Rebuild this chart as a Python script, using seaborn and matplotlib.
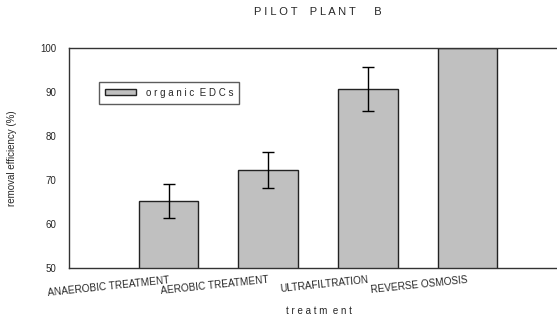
import matplotlib
matplotlib.use("Agg")
import matplotlib.pyplot as plt
import seaborn as sns
import pandas as pd

categories = ["ANAEROBIC TREATMENT", "AEROBIC TREATMENT", "ULTRAFILTRATION", "REVERSE OSMOSIS"]
removal = [65.3, 72.2, 90.7, 100.0]
errors = [3.9, 4.1, 5.0, 0.0]
yticks = [50, 60, 70, 80, 90, 100]

sns.set_theme(style="white")
plt.rcParams['font.family'] = ['Liberation Sans', 'DejaVu Sans']

df = pd.DataFrame({"treatment": categories, "removal": removal, "series": "organic EDCs"})

W, H = 557, 321
left_px, right_px, top_px, bot_px = 69, 562, 48, 268
fig = plt.figure(figsize=(W / 100, H / 100), dpi=100)
ax = fig.add_axes([left_px / W, 1 - bot_px / H, (right_px - left_px) / W, (bot_px - top_px) / H])

sns.barplot(data=df, x="treatment", y="removal", hue="series",
            palette=["#c0c0c0"], width=0.6, edgecolor="#222222", linewidth=1.0,
            errorbar=None, ax=ax)
ax.errorbar(x=list(range(len(categories))), y=removal,
            yerr=[e if e > 0 else float('nan') for e in errors],
            fmt="none", ecolor="black", elinewidth=1.0, capsize=4, capthick=1.0)

ax.set_xlim(-1.0, 3.95)
ax.set_ylim(50, 100)
ax.set_yticks(yticks)
ax.set_yticklabels([str(v) for v in yticks], fontsize=7)
ax.set_xticks(range(len(categories)))
ax.set_xticklabels(categories, fontsize=7.2, rotation=6, ha="right", rotation_mode="anchor")
ax.tick_params(axis="y", direction="out", length=6, width=1, color="#333333", pad=3)
ax.tick_params(axis="x", direction="out", length=2, width=1, color="#333333", pad=3)

for s in ["left", "top", "bottom"]:
    ax.spines[s].set_color("#333333")
    ax.spines[s].set_linewidth(1.0)
ax.spines["right"].set_visible(False)

ax.set_xlabel("t r e a t m  e n t", fontsize=7)
ax.xaxis.set_label_coords((319 - left_px) / (right_px - left_px), -(311 - bot_px) / (bot_px - top_px))
ax.xaxis.label.set_va("center")
ax.set_ylabel("removal efficiency (%)", fontsize=7)
ax.yaxis.set_label_coords(-(left_px - 12) / (right_px - left_px), 0.5)
ax.yaxis.label.set_va("center")
fig.text(318 / W, 1 - 12 / H, "P I L O T    P L A N T      B", fontsize=8, ha="center", va="center")

leg = ax.legend(loc="upper left", bbox_to_anchor=((99 - left_px) / (right_px - left_px), 1 - (82 - top_px) / (bot_px - top_px)),
                fontsize=7, frameon=True, fancybox=False, edgecolor="#333333",
                handlelength=3.2, handleheight=0.6, handletextpad=1.0, borderpad=0.6, borderaxespad=0)
leg.get_frame().set_linewidth(1.0)
for t in leg.get_texts():
    t.set_text("o r g a n i c  E D C s")

fig.savefig("out.png", dpi=100)
